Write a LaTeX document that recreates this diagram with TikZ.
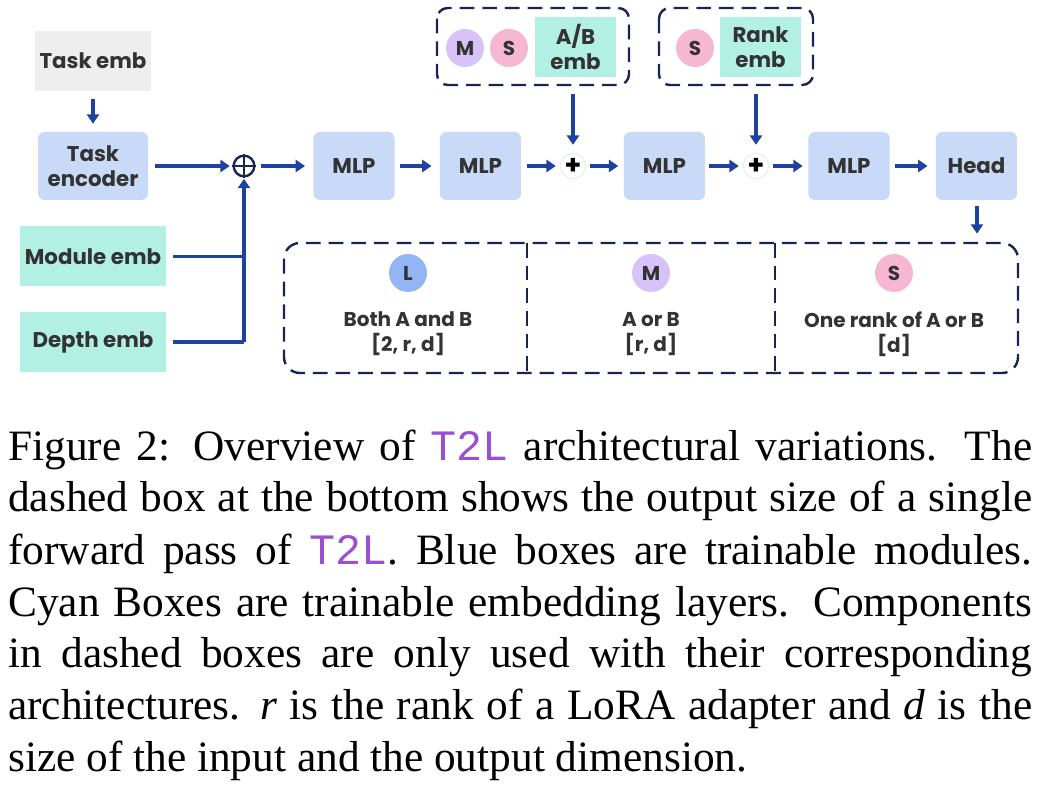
\documentclass[tikz,border=0pt]{standalone}
\usepackage{fontspec}
\setmainfont{Liberation Serif}
\newfontfamily\df{Poppins}
\newfontfamily\tlmono{Liberation Mono}
\usetikzlibrary{arrows.meta}
\definecolor{blueBox}{RGB}{201,218,248}
\definecolor{cyanBox}{RGB}{178,240,228}
\definecolor{grayBox}{RGB}{238,238,238}
\definecolor{arrowC}{RGB}{30,66,160}
\definecolor{dashC}{RGB}{22,38,84}
\definecolor{Lc}{RGB}{147,181,245}
\definecolor{Mc}{RGB}{215,195,247}
\definecolor{Sc}{RGB}{245,183,210}
\definecolor{txt}{RGB}{51,51,51}
\definecolor{tlc}{RGB}{155,80,210}
\definecolor{plusring}{RGB}{222,243,228}
\newcommand{\tl}{{\color{tlc}\tlmono T2L}}
\tikzset{
  lbl/.style={font=\df\bfseries\fontsize{16}{19}\selectfont, text=txt, align=center, inner sep=0pt},
  bluebox/.style={lbl, fill=blueBox, rounded corners=5pt, minimum width=61pt, minimum height=51pt},
  cyanbox/.style={lbl, fill=cyanBox, minimum height=45pt},
  circ/.style={circle, minimum size=28.5pt, inner sep=0pt, font=\df\bfseries\fontsize{15}{16}\selectfont, text=txt},
  arr/.style={draw=arrowC, line width=2.3pt, -{Triangle[length=7pt,width=9pt]}},
  ln/.style={draw=arrowC, line width=2.3pt},
  dbox/.style={draw=dashC, line width=1.8pt, dash pattern=on 11pt off 6pt},
  small/.style={font=\df\bfseries\fontsize{15}{19}\selectfont, text=txt, align=center, inner sep=0pt},
  capline/.style={anchor=base west, inner sep=0pt, font=\fontsize{32.5}{38}\selectfont}
}
\begin{document}
\begin{tikzpicture}[x=0.75pt,y=-0.75pt]
\useasboundingbox (0,0) rectangle (1042,787);
% left column
\node[lbl, fill=grayBox, minimum width=87pt, minimum height=45pt] (taskemb) at (93,61) {Task emb};
\node[bluebox, minimum width=82.5pt] (taskenc) at (93,166) {Task\\encoder};
\node[cyanbox, minimum width=109.5pt] (modemb) at (93,256.5) {Module emb};
\node[cyanbox, minimum width=109.5pt] (depemb) at (93,342) {Depth emb};
% oplus
\node[circle, draw=dashC, line width=1.8pt, minimum size=15.5pt, inner sep=0pt] (oplus) at (244,166) {};
\draw[dashC, line width=1.8pt] (oplus.north) -- (oplus.south) (oplus.west) -- (oplus.east);
% main chain
\node[bluebox] (mlp1) at (354,166) {MLP};
\node[bluebox] (mlp2) at (480.5,166) {MLP};
\node[circle, draw=plusring, line width=0.8pt, minimum size=19pt, inner sep=0pt, font=\df\bfseries\fontsize{20}{20}\selectfont] (plus1) at (573,166) {+};
\node[bluebox] (mlp3) at (664.5,166) {MLP};
\node[circle, draw=plusring, line width=0.8pt, minimum size=19pt, inner sep=0pt, font=\df\bfseries\fontsize{20}{20}\selectfont] (plus2) at (756,166) {+};
\node[bluebox] (mlp4) at (849,166) {MLP};
\node[bluebox] (head) at (976.5,166) {Head};
% top dashed boxes
\draw[dbox, rounded corners=8pt] (437,8) rectangle (629,85);
\coordinate (box1b) at (573,85);
\node[circ, fill=Mc] (m1) at (465,48) {M};
\node[circ, fill=Sc] (s1) at (509,48) {S};
\node[cyanbox, minimum width=61pt] (abemb) at (575.5,47) {A/B\\emb};
\draw[dbox, rounded corners=8pt] (659,8) rectangle (813,85);
\coordinate (box2b) at (756,85);
\node[circ, fill=Sc] (s2) at (695,48) {S};
\node[cyanbox, minimum width=61pt] (rankemb) at (760.5,47) {Rank\\emb};
% bottom dashed box
\draw[dbox, rounded corners=12pt] (284,243) rectangle (1018,373);
\draw[dbox] (527,243) -- (527,373);
\draw[dbox] (775,243) -- (775,373);
\coordinate (bigtop) at (977,243);
\node[circ, fill=Lc] (L) at (408,273) {L};
\node[circ, fill=Mc] (M) at (651,273) {M};
\node[circ, fill=Sc] (S) at (894,273) {S};
\node[small] (tL) at (408,334) {Both A and B\\{}[2, r, d]};
\node[small] (tM) at (651,334) {A or B\\{}[r, d]};
\node[small] (tS) at (894,334) {One rank of A or B\\{}[d]};
% arrows
\draw[arr, shorten <=6pt, shorten >=6pt] (taskemb.south) -- (taskenc.north);
\draw[arr, shorten <=5pt, shorten >=2pt] (taskenc.east) -- (oplus.west);
\draw[arr, shorten <=4pt, shorten >=6pt] (oplus.east) -- (mlp1.west);
\draw[arr, shorten <=4pt, shorten >=6pt] (mlp1.east) -- (mlp2.west);
\draw[arr, shorten <=4pt, shorten >=3pt] (mlp2.east) -- (plus1.west);
\draw[arr, shorten <=3pt, shorten >=4pt] (plus1.east) -- (mlp3.west);
\draw[arr, shorten <=3pt, shorten >=3pt] (mlp3.east) -- (plus2.west);
\draw[arr, shorten <=3pt, shorten >=4pt] (plus2.east) -- (mlp4.west);
\draw[arr, shorten <=4pt, shorten >=6pt] (mlp4.east) -- (head.west);
\draw[arr, shorten <=4pt, shorten >=7pt] (head.south -| bigtop) -- (bigtop);
\draw[arr, shorten <=7pt, shorten >=6pt] (box1b) -- (plus1.north);
\draw[arr, shorten <=7pt, shorten >=6pt] (box2b) -- (plus2.north);
\draw[ln, shorten <=5pt] (modemb.east) -- (modemb.east -| oplus);
\draw[ln, shorten <=5pt] (depemb.east) -- (depemb.east -| oplus);
\draw[arr, shorten >=1pt] (depemb.east -| oplus) -- (oplus.south);
% caption
\node[capline] (c1) at (8,460) {\makebox[768pt][s]{Figure 2: Overview of \tl{} architectural variations. The}};
\node[capline] (c2) at (8,512) {\makebox[768pt][s]{dashed box at the bottom shows the output size of a single}};
\node[capline] (c3) at (8,564) {\makebox[768pt][s]{forward pass of \tl. Blue boxes are trainable modules.}};
\node[capline] (c4) at (8,616) {\makebox[768pt][s]{Cyan Boxes are trainable embedding layers. Components}};
\node[capline] (c5) at (8,667) {\makebox[768pt][s]{in dashed boxes are only used with their corresponding}};
\node[capline] (c6) at (8,719) {\makebox[768pt][s]{architectures. \textit{r} is the rank of a LoRA adapter and \textit{d} is the}};
\node[capline] (c7) at (8,771) {size of the input and the output dimension.};
\end{tikzpicture}
\end{document}
